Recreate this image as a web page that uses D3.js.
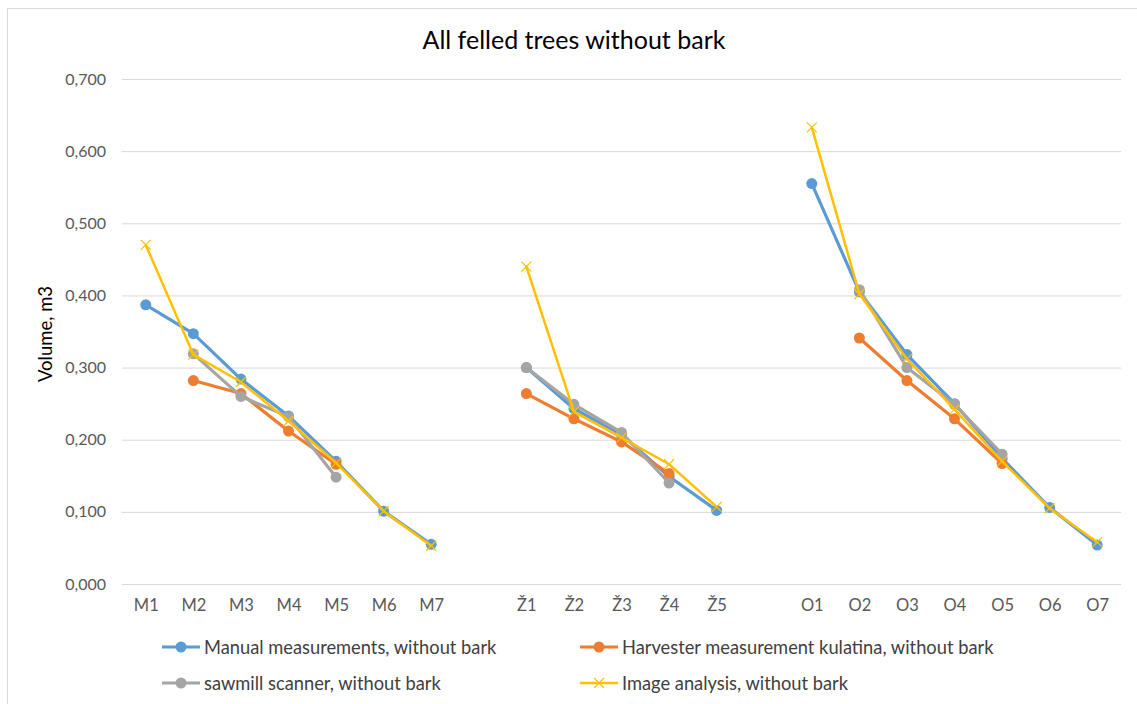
<!DOCTYPE html>
<html>
<head>
<meta charset="utf-8">
<script src="https://cdn.jsdelivr.net/npm/d3@7"></script>
<style>
  html, body { margin: 0; padding: 0; background: #fff; }
  svg { display: block; }
  text { font-family: Lato, "Open Sans", sans-serif; }
</style>
</head>
<body>
<svg id="chart" width="1137" height="704"></svg>
<script>
// Categories (empty slots separate the three groups of logs)
const categories = ["M1","M2","M3","M4","M5","M6","M7","gap1",
                    "Ž1","Ž2","Ž3","Ž4","Ž5","gap2",
                    "O1","O2","O3","O4","O5","O6","O7"];

const manual    = [0.387,0.347,0.284,0.233,0.170,0.101,0.055,null,
                   0.300,0.243,0.207,0.149,0.102,null,
                   0.555,0.405,0.318,0.250,0.174,0.106,0.054];
const harvester = [null,0.282,0.264,0.212,0.166,null,null,null,
                   0.264,0.229,0.197,0.153,null,null,
                   null,0.341,0.282,0.229,0.167,null,null];
const sawmill   = [null,0.319,0.260,0.232,0.148,null,null,null,
                   0.300,0.249,0.210,0.140,null,null,
                   null,0.408,0.300,0.249,0.180,null,null];
const imageAn   = [0.470,0.318,0.280,0.226,0.168,0.101,0.053,null,
                   0.440,0.239,0.203,0.166,0.107,null,
                   0.633,0.402,0.312,0.242,0.170,0.105,0.058];

const yTicks = [0, 0.1, 0.2, 0.3, 0.4, 0.5, 0.6, 0.7];

const seriesNames = ["Manual measurements, without bark",
                     "Harvester measurement kulatina, without bark",
                     "sawmill scanner, without bark",
                     "Image analysis, without bark"];
const seriesColors = ["#5B9BD5", "#ED7D31", "#A5A5A5", "#FFC000"];
const seriesValues = [manual, harvester, sawmill, imageAn];

const svg = d3.select("#chart");

// Chart frame
svg.append("rect")
  .attr("x", 7.5).attr("y", 8.5)
  .attr("width", 1140).attr("height", 710)
  .attr("fill", "#fff").attr("stroke", "#d9d9d9").attr("stroke-width", 1);

const x = d3.scalePoint().domain(categories).range([122, 1121]).padding(0.5);
const y = d3.scaleLinear().domain([0, 0.7]).range([584, 79]);

// Title
svg.append("text")
  .attr("x", 574).attr("y", 49)
  .attr("text-anchor", "middle")
  .attr("font-size", 25)
  .attr("fill", "#000")
  .text("All felled trees without bark");

// Horizontal gridlines and y tick labels
const fmt = v => d3.format(".3f")(v).replace(".", ",");
const yAxis = d3.axisLeft(y).tickValues(yTicks).tickSize(-(1121 - 122)).tickFormat(fmt).tickPadding(16);
const gy = svg.append("g").attr("transform", "translate(122,0)").call(yAxis);
gy.select(".domain").remove();
gy.selectAll(".tick line").attr("stroke", "#d9d9d9").attr("stroke-width", 1);
gy.selectAll(".tick text")
  .attr("fill", "#595959").attr("font-size", 16)
  .attr("font-family", "Lato, 'Open Sans', sans-serif");

// Y axis title
svg.append("text")
  .attr("transform", "translate(52,334) rotate(-90)")
  .attr("text-anchor", "middle")
  .attr("font-size", 18.5)
  .attr("fill", "#000")
  .text("Volume, m3");

// X axis labels
const xAxis = d3.axisBottom(x).tickSize(0).tickPadding(15)
  .tickFormat(d => d.startsWith("gap") ? "" : d);
const gx = svg.append("g").attr("transform", "translate(0,584)").call(xAxis);
gx.select(".domain").remove();
gx.selectAll(".tick text")
  .attr("fill", "#595959").attr("font-size", 16.5)
  .attr("font-family", "Lato, 'Open Sans', sans-serif");

// Series lines and markers
function drawMarker(g, cx, cy, i) {
  if (i === 3) {
    const s = 5;
    g.append("path")
      .attr("d", `M${cx - s},${cy - s}L${cx + s},${cy + s}M${cx - s},${cy + s}L${cx + s},${cy - s}`)
      .attr("stroke", seriesColors[i]).attr("stroke-width", 1.2).attr("fill", "none");
  } else {
    g.append("circle").attr("cx", cx).attr("cy", cy).attr("r", 5.5)
      .attr("fill", seriesColors[i]);
  }
}

seriesValues.forEach((vals, i) => {
  const pts = categories.map((c, k) => ({ c, v: vals[k] }));
  const line = d3.line()
    .defined(d => d.v !== null)
    .x(d => x(d.c)).y(d => y(d.v));
  const g = svg.append("g");
  g.append("path")
    .datum(pts)
    .attr("d", line)
    .attr("fill", "none")
    .attr("stroke", seriesColors[i])
    .attr("stroke-width", i === 3 ? 2.5 : 3.2)
    .attr("stroke-linejoin", "round")
    .attr("stroke-linecap", "round");
  pts.filter(d => d.v !== null).forEach(d => drawMarker(g, x(d.c), y(d.v), i));
});

// Legend
const legendPos = [[162, 647], [580, 647], [162, 683], [580, 683]];
seriesNames.forEach((name, i) => {
  const [lx, ly] = legendPos[i];
  const g = svg.append("g");
  g.append("line")
    .attr("x1", lx).attr("x2", lx + 38).attr("y1", ly).attr("y2", ly)
    .attr("stroke", seriesColors[i]).attr("stroke-width", i === 3 ? 2.5 : 3.2);
  drawMarker(g, lx + 19, ly, i);
  g.append("text")
    .attr("x", lx + 42).attr("y", ly + 6.5)
    .attr("font-size", 18.3)
    .attr("fill", "#404040")
    .text(name);
});
</script>
</body>
</html>
